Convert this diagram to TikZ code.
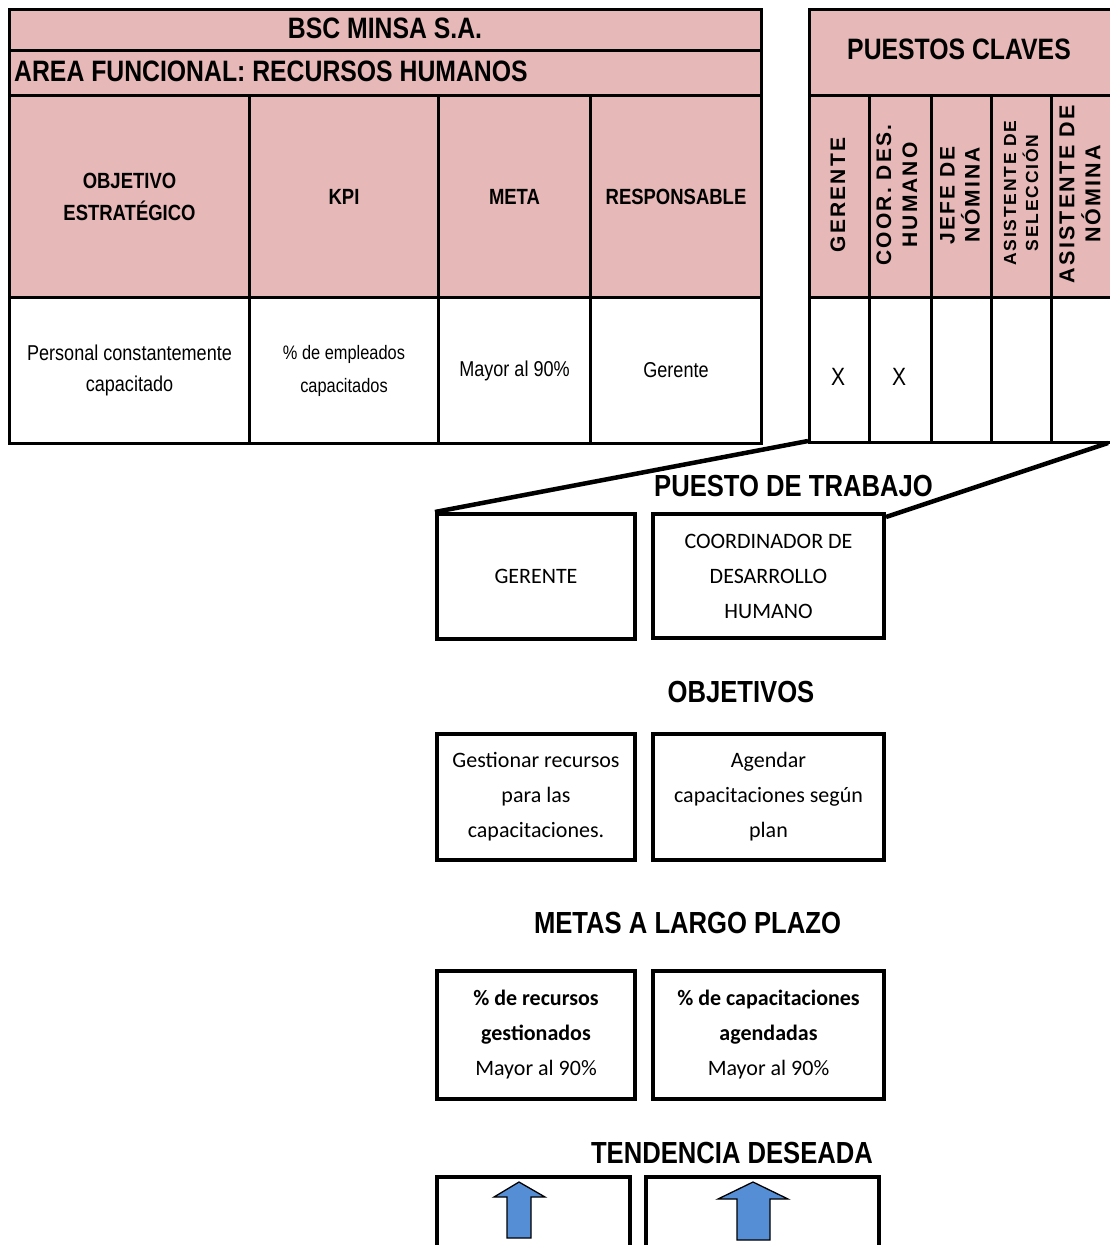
\documentclass[tikz,border=0pt]{standalone}
\usepackage{fontspec}
\setmainfont{Liberation Sans}
\newfontfamily\narrow[FakeStretch=0.84]{Liberation Sans}
\newfontfamily\spaced[LetterSpace=10]{Liberation Sans}
\newfontfamily\calib{Carlito}
\definecolor{headpink}{RGB}{230,184,183}
\definecolor{arrowblue}{RGB}{85,142,213}

\begin{document}
\begin{tikzpicture}[x=1pt,y=-1pt,
  cell/.style={draw=black, line width=3pt, anchor=north west, inner sep=0pt,
               align=center, text=black, fill=white},
  head/.style={cell, fill=headpink},
  hfont/.style={font=\narrow\bfseries\fontsize{22}{32}\selectfont},
  dfont/.style={font=\narrow\fontsize{21.5}{31}\selectfont},
  rfont/.style={font=\spaced\bfseries\fontsize{21}{26}\selectfont},
  bigtitle/.style={font=\narrow\bfseries\fontsize{29.5}{34}\selectfont, inner sep=0pt},
  sectitle/.style={font=\narrow\bfseries\fontsize{30.5}{36}\selectfont, inner sep=0pt},
  box/.style={draw=black, line width=4pt, anchor=north west, inner sep=0pt,
              align=center, fill=white, font=\calib\fontsize{22}{35}\selectfont},
  conn/.style={draw=black, line width=4.5pt},
  trend/.style={fill=arrowblue, draw=black, line width=1.3pt, line join=miter}
]
\useasboundingbox (0,0) rectangle (1109,1245);

% ---------- balanced scorecard table ----------
\node[head, minimum width=752pt, minimum height=41pt] (bsc) at (8,8) {};
\node[bigtitle] (bsct) at (385,28.5) {BSC MINSA S.A.};
\node[head, minimum width=752pt, minimum height=45pt] (area) at (8,49) {};
\node[bigtitle, anchor=west] (areat) at (14,71.5) {AREA FUNCIONAL: RECURSOS HUMANOS};

\node[head, hfont, minimum width=240pt, minimum height=202pt] (h1) at (8,94) {OBJETIVO\\ESTRATÉGICO};
\node[head, hfont, minimum width=189pt, minimum height=202pt] (h2) at (248,94) {KPI};
\node[head, hfont, minimum width=152pt, minimum height=202pt] (h3) at (437,94) {META};
\node[head, hfont, minimum width=171pt, minimum height=202pt] (h4) at (589,94) {RESPONSABLE};

\node[cell, dfont, minimum width=240pt, minimum height=146pt] (d1) at (8,296) {Personal constantemente\\capacitado};
\node[cell, font=\narrow\fontsize{19.5}{33}\selectfont, minimum width=189pt, minimum height=146pt] (d2) at (248,296) {\% de empleados\\capacitados};
\node[cell, dfont, minimum width=152pt, minimum height=146pt] (d3) at (437,296) {Mayor al 90\%};
\node[cell, dfont, minimum width=171pt, minimum height=146pt] (d4) at (589,296) {Gerente};

% ---------- key positions table ----------
\node[head, minimum width=303pt, minimum height=86pt] (pc) at (808,8) {};
\node[bigtitle] (pct) at (959,49) {PUESTOS CLAVES};

\node[head, minimum width=60pt, minimum height=202pt] (p1) at (808,94) {};
\node[head, minimum width=62pt, minimum height=202pt] (p2) at (868,94) {};
\node[head, minimum width=60pt, minimum height=202pt] (p3) at (930,94) {};
\node[head, minimum width=60pt, minimum height=202pt] (p4) at (990,94) {};
\node[head, minimum width=61pt, minimum height=202pt] (p5) at (1050,94) {};

\node[rfont, rotate=90, align=center] (p1t) at (838,195) {GERENTE};
\node[rfont, rotate=90, align=center] (p2t) at (897,195) {COOR. DES.\\HUMANO};
\node[rfont, rotate=90, align=center, font=\spaced\bfseries\fontsize{21}{25}\selectfont] (p3t) at (960,195) {JEFE DE\\NÓMINA};
\node[rfont, rotate=90, align=center, font=\spaced\bfseries\fontsize{17.5}{22}\selectfont] (p4t) at (1021,193) {ASISTENTE DE\\SELECCIÓN};
\node[rfont, rotate=90, align=center, font=\spaced\bfseries\fontsize{21.5}{26}\selectfont] (p5t) at (1080,194) {ASISTENTE DE\\NÓMINA};

\node[cell, minimum width=60pt, minimum height=145pt] (x1) at (808,296) {};
\node[cell, minimum width=62pt, minimum height=145pt] (x2) at (868,296) {};
\node[cell, minimum width=60pt, minimum height=145pt] (x3) at (930,296) {};
\node[cell, minimum width=60pt, minimum height=145pt] (x4) at (990,296) {};
\node[cell, minimum width=61pt, minimum height=145pt] (x5) at (1050,296) {};
\node[font=\narrow\fontsize{25}{30}\selectfont, inner sep=0pt] (x1t) at (838,377) {X};
\node[font=\narrow\fontsize{25}{30}\selectfont, inner sep=0pt] (x2t) at (899,377) {X};

\coordinate (pcBL) at (808,441);
\coordinate (pcBR) at (1108,443);

% ---------- job position ----------
\node[sectitle] (tpt) at (793.5,486) {PUESTO DE TRABAJO};
\node[box, minimum width=198pt, minimum height=125pt] (g) at (435,512) {GERENTE};
\node[box, minimum width=231pt, minimum height=124pt] (c) at (651,512) {COORDINADOR DE\\DESARROLLO\\HUMANO};

\draw[conn] (pcBL) -- (g.north west);
\draw[conn] (pcBR) -- ([yshift=-5pt]c.north east);

% ---------- objectives ----------
\node[sectitle] (tob) at (741,691.5) {OBJETIVOS};
\node[box, minimum width=198pt, minimum height=126pt] (o1) at (435,732) {Gestionar recursos\\para las\\capacitaciones.};
\node[box, minimum width=231pt, minimum height=126pt] (o2) at (651,732) {Agendar\\capacitaciones según\\plan};

% ---------- long-term goals ----------
\node[sectitle] (tme) at (687.5,923) {METAS A LARGO PLAZO};
\node[box, minimum width=198pt, minimum height=128pt] (m1) at (435,969) {\textbf{\% de recursos}\\\textbf{gestionados}\\Mayor al 90\%};
\node[box, minimum width=231pt, minimum height=128pt] (m2) at (651,969) {\textbf{\% de capacitaciones}\\\textbf{agendadas}\\Mayor al 90\%};

% ---------- desired trend ----------
\node[sectitle] (ttd) at (732,1153) {TENDENCIA DESEADA};
\node[box, minimum width=193pt, minimum height=90pt] (t1) at (435,1175) {};
\node[box, minimum width=233pt, minimum height=90pt] (t2) at (644,1175) {};

\draw[trend] (519,1182) -- (545,1197) -- (531,1197) -- (531,1238) -- (507,1238) -- (507,1197) -- (494,1197) -- cycle;
\draw[trend] (753,1182) -- (788,1199) -- (770,1199) -- (770,1240) -- (737,1240) -- (737,1199) -- (718,1199) -- cycle;
\end{tikzpicture}
\end{document}
